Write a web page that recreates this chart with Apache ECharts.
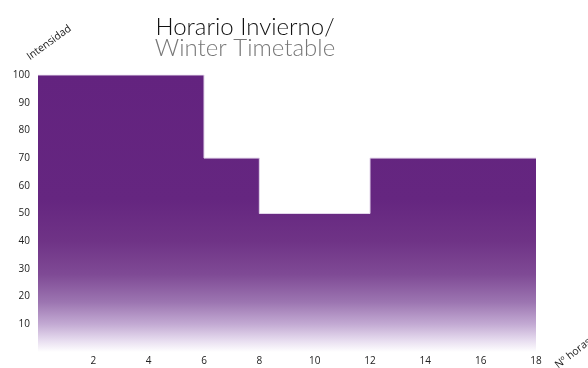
<!DOCTYPE html>
<html>
<head>
<meta charset="utf-8">
<script src="https://cdn.jsdelivr.net/npm/echarts@6/dist/echarts.min.js"></script>
<style>
  html, body { margin: 0; padding: 0; background: #fff; }
  #chart { width: 588px; height: 368px; }
</style>
</head>
<body>
<div id="chart"></div>
<script>
// Intensity schedule: each step starts at an hour and holds until the next one
const stepStarts = [0, 6, 8, 12];
const stepValues = [100, 70, 50, 70];
const endHour = 18;
const xTicks = [2, 4, 6, 8, 10, 12, 14, 16, 18];
const yTicks = [10, 20, 30, 40, 50, 60, 70, 80, 90, 100];

const points = stepStarts.map((h, i) => [h, stepValues[i]]);
points.push([endHour, stepValues[stepValues.length - 1]]);

const chart = echarts.init(document.getElementById('chart'));
const labelFont = { color: '#222', fontSize: 10, fontFamily: 'Open Sans' };

chart.setOption({
  animation: false,
  title: {
    text: 'Horario Invierno/',
    subtext: 'Winter Timetable',
    left: 240,
    textAlign: 'center',
    top: 10,
    itemGap: -3,
    textStyle: { fontFamily: 'Lato', fontWeight: 300, fontSize: 24, color: '#111' },
    subtextStyle: { fontFamily: 'Lato', fontWeight: 300, fontSize: 24, color: '#777' }
  },
  grid: { left: 38, right: 52, top: 75, bottom: 16 },
  xAxis: {
    type: 'value', min: 0, max: endHour, interval: 2,
    axisLine: { show: false }, axisTick: { show: false }, splitLine: { show: false },
    axisLabel: Object.assign({}, labelFont, {
      margin: 4,
      formatter: v => (xTicks.includes(v) ? String(v) : '')
    })
  },
  yAxis: {
    type: 'value', min: 0, max: 100, interval: 10,
    axisLine: { show: false }, axisTick: { show: false }, splitLine: { show: false },
    axisLabel: Object.assign({}, labelFont, {
      margin: 8,
      formatter: v => (yTicks.includes(v) ? String(v) : '')
    })
  },
  graphic: [
    { type: 'text', left: 25, top: 23, rotation: Math.PI * 36 / 180,
      style: { text: 'Intensidad', fill: '#222', font: '10.5px "Open Sans"' } },
    { type: 'text', left: 553, top: 336, rotation: Math.PI * 38 / 180,
      style: { text: 'Nº horas', fill: '#222', font: '10.5px "Open Sans"' } }
  ],
  series: [{
    type: 'line',
    step: 'end',
    data: points,
    symbol: 'none',
    lineStyle: { width: 1, color: '#e2d4ea' },
    areaStyle: {
      opacity: 1,
      color: new echarts.graphic.LinearGradient(0, 0, 0, 1, [
        { offset: 0, color: '#63237f' },
        { offset: 0.45, color: '#652680' },
        { offset: 0.6, color: '#6f3386' },
        { offset: 0.72, color: '#7f4a95' },
        { offset: 0.82, color: '#9c75b1' },
        { offset: 0.9, color: '#c3aad3' },
        { offset: 0.96, color: '#e8def0' },
        { offset: 1, color: '#ffffff' }
      ])
    }
  }]
});
</script>
</body>
</html>
